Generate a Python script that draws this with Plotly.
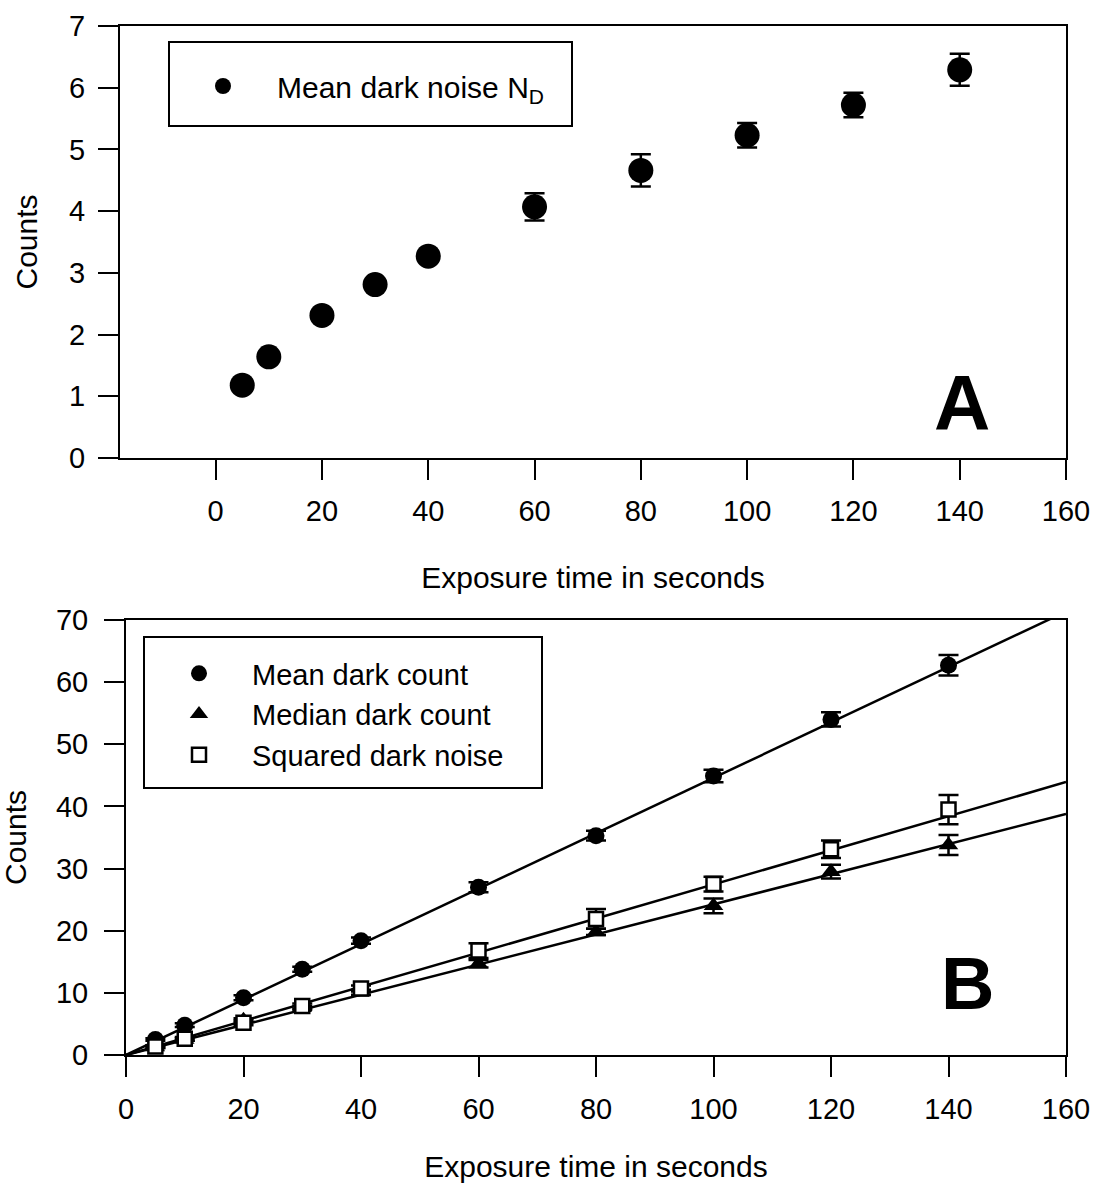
import plotly.graph_objects as go

# ---------------- data ----------------
time_a = [5, 10, 20, 30, 40, 60, 80, 100, 120, 140]
noise_a = [1.18, 1.64, 2.31, 2.81, 3.27, 4.07, 4.66, 5.23, 5.72, 6.29]
noise_a_err = [0.05, 0.05, 0.05, 0.05, 0.06, 0.22, 0.26, 0.20, 0.20, 0.26]

time_b = [5, 10, 20, 30, 40, 60, 80, 100, 120, 140]
mean_b = [2.5, 4.8, 9.2, 13.8, 18.4, 27.0, 35.3, 44.9, 54.0, 62.7]
mean_b_err = [0.2, 0.3, 0.4, 0.4, 0.5, 0.8, 0.8, 1.0, 1.15, 1.65]
median_b = [1.3, 2.5, 5.6, 7.6, 10.1, 14.7, 19.8, 24.0, 29.5, 33.8]
median_b_err = [0.2, 0.2, 0.3, 0.3, 0.4, 0.6, 0.5, 1.2, 1.1, 1.6]
sq_b = [1.35, 2.6, 5.2, 7.9, 10.7, 16.8, 21.9, 27.5, 33.1, 39.5]
sq_b_err = [0.2, 0.3, 0.4, 0.4, 0.5, 1.2, 1.6, 1.2, 1.4, 2.35]

# fitted straight lines through the origin (slopes)
fit_x = [0, 160]
slope_mean = 0.446
slope_median = 0.2425
slope_sq = 0.2745

x_ticks = [0, 20, 40, 60, 80, 100, 120, 140, 160]

FONT = "Liberation Sans, Arial, sans-serif"
W, H = 1098, 1183

fig = go.Figure()

# ---------- panel A ----------
fig.add_trace(go.Scatter(
    x=time_a, y=noise_a, mode="markers", name="Mean dark noise N<sub>D</sub>",
    xaxis="x", yaxis="y", legend="legend",
    marker=dict(symbol="circle", size=25, color="black"),
    error_y=dict(type="data", array=noise_a_err, visible=True,
                 color="black", thickness=2.5, width=10),
))

# ---------- panel B ----------
for slope in (slope_mean, slope_median, slope_sq):
    fig.add_trace(go.Scatter(
        x=fit_x, y=[slope * v for v in fit_x], mode="lines",
        xaxis="x2", yaxis="y2", showlegend=False, hoverinfo="skip",
        line=dict(color="black", width=2.5),
    ))

fig.add_trace(go.Scatter(
    x=time_b, y=mean_b, mode="markers", name="Mean dark count",
    xaxis="x2", yaxis="y2", legend="legend2",
    marker=dict(symbol="circle", size=17, color="black"),
    error_y=dict(type="data", array=mean_b_err, visible=True,
                 color="black", thickness=2.5, width=10),
))
fig.add_trace(go.Scatter(
    x=time_b, y=median_b, mode="markers", name="Median dark count",
    xaxis="x2", yaxis="y2", legend="legend2",
    marker=dict(symbol="triangle-up", size=17, color="black"),
    error_y=dict(type="data", array=median_b_err, visible=True,
                 color="black", thickness=2.5, width=10),
))
fig.add_trace(go.Scatter(
    x=time_b, y=sq_b, mode="markers", name="Squared dark noise",
    xaxis="x2", yaxis="y2", legend="legend2",
    marker=dict(symbol="square", size=14, color="white",
                line=dict(color="black", width=2.5)),
    error_y=dict(type="data", array=sq_b_err, visible=True,
                 color="black", thickness=2.5, width=10),
))

axis_common = dict(
    showline=True, mirror=True, linecolor="black", linewidth=2,
    ticks="outside", ticklen=20, tickwidth=2, tickcolor="black",
    showgrid=False, zeroline=False, automargin=False,
    tickfont=dict(family=FONT, size=29, color="black"),
)
title_font = dict(family=FONT, size=30, color="black")

fig.update_layout(
    width=W, height=H,
    margin=dict(l=0, r=0, t=0, b=0, autoexpand=False),
    paper_bgcolor="white", plot_bgcolor="white",
    font=dict(family=FONT, color="black"),
    xaxis=dict(domain=[120 / W, 1066 / W], anchor="y", range=[-18, 160],
               tickvals=x_ticks, ticklabelstandoff=6,
               title=dict(text="Exposure time in seconds", font=title_font, standoff=41),
               **axis_common),
    yaxis=dict(domain=[1 - 458 / H, 1 - 26 / H], anchor="x", range=[0, 7],
               dtick=1, ticklabelstandoff=7,
               title=dict(text="Counts", font=title_font, standoff=23),
               **axis_common),
    xaxis2=dict(domain=[126 / W, 1066 / W], anchor="y2", range=[0, 160],
                tickvals=x_ticks, ticklabelstandoff=7,
                title=dict(text="Exposure time in seconds", font=title_font, standoff=34),
                **axis_common),
    yaxis2=dict(domain=[1 - 1055 / H, 1 - 620 / H], anchor="x2", range=[0, 70],
                dtick=10, ticklabelstandoff=10,
                **axis_common),
    legend=dict(x=169 / W, y=1 - 60 / H, xanchor="left", yanchor="top",
                bgcolor="rgba(0,0,0,0)", borderwidth=0,
                font=dict(family=FONT, size=30, color="black"),
                indentation=0, itemwidth=98),
    legend2=dict(x=144 / W, y=1 - 648 / H, xanchor="left", yanchor="top",
                 bgcolor="rgba(0,0,0,0)", borderwidth=0,
                 font=dict(family=FONT, size=29, color="black"),
                 indentation=2, itemwidth=96, tracegroupgap=0),
    shapes=[
        dict(type="rect", xref="paper", yref="paper",
             x0=169 / W, x1=572 / W, y0=1 - 126 / H, y1=1 - 42 / H,
             line=dict(color="black", width=2), fillcolor="rgba(0,0,0,0)"),
        dict(type="rect", xref="paper", yref="paper",
             x0=144 / W, x1=542 / W, y0=1 - 788 / H, y1=1 - 637 / H,
             line=dict(color="black", width=2), fillcolor="rgba(0,0,0,0)"),
    ],
    annotations=[
        dict(text="Counts", x=15 / W, y=1 - 838 / H, xref="paper", yref="paper",
             xanchor="center", yanchor="middle", textangle=-90,
             showarrow=False, font=title_font),
        dict(text="<b>A</b>", x=962 / W, y=1 - 403 / H, xref="paper", yref="paper",
             xanchor="center", yanchor="middle",
             showarrow=False, font=dict(family=FONT, size=78, color="black")),
        dict(text="<b>B</b>", x=967 / W, y=1 - 983 / H, xref="paper", yref="paper",
             xanchor="center", yanchor="middle",
             showarrow=False, font=dict(family=FONT, size=74, color="black")),
    ],
)

fig.write_html("out.html")
